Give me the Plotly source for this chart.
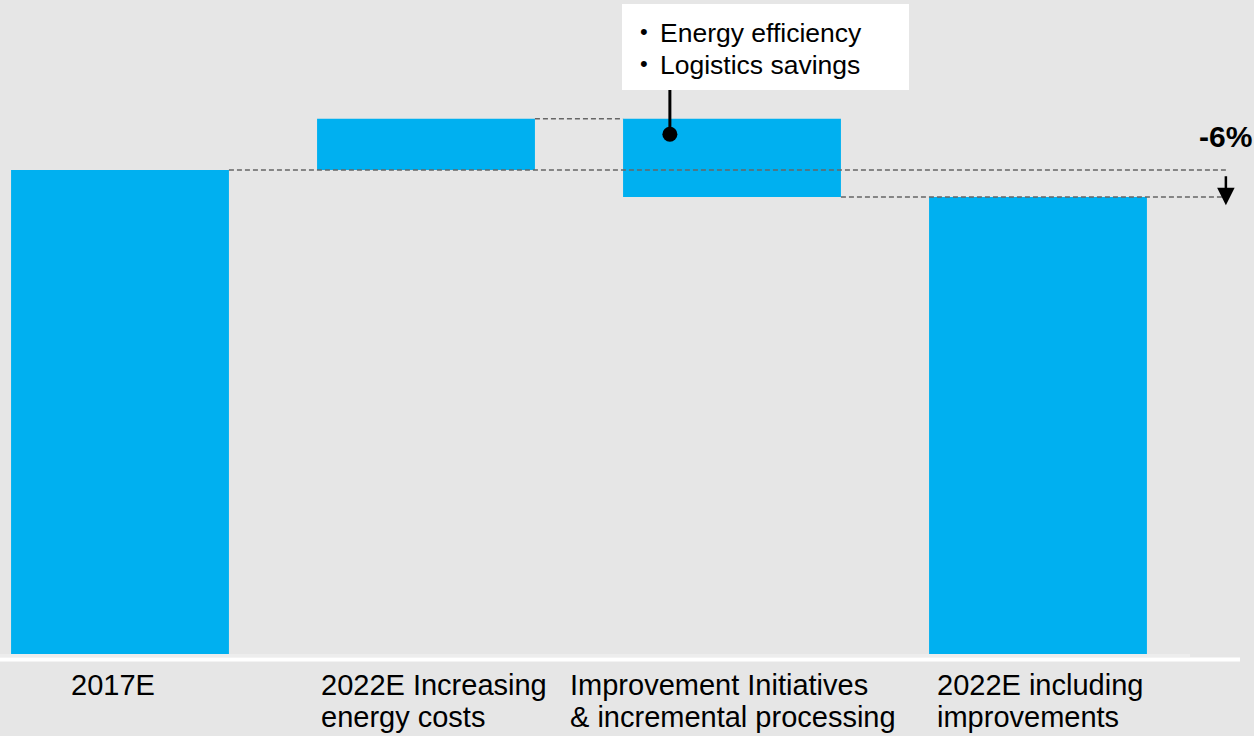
import plotly.graph_objects as go

# Cost bridge data (index, 2017E = 100)
categories = ["2017E", "2022E Increasing energy costs",
              "Improvement Initiatives & incremental processing",
              "2022E including improvements"]
label_lines = [["2017E"],
               ["2022E Increasing", "energy costs"],
               ["Improvement Initiatives", "& incremental processing"],
               ["2022E including", "improvements"]]
values = [100.0, 10.6, -16.2, 94.4]
measures = ["absolute", "relative", "relative", "total"]
callout_items = ["Energy efficiency", "Logistics savings"]

BLUE = "#00B0F0"
BG = "#E6E6E6"
FONT = "Liberation Sans, Arial, sans-serif"
W, H = 1254, 736

# running levels
start = values[0]
after_increase = start + values[1]
after_decrease = after_increase + values[2]
final = values[3]
pct = round((final - start) / start * 100)

bar_w = 0.712
half = bar_w / 2
x_right = 3.614  # end of guide lines / arrow position

fig = go.Figure()
fig.add_trace(go.Waterfall(
    x=list(range(len(categories))),
    y=values,
    measure=measures,
    width=[bar_w] * 4,
    increasing=dict(marker=dict(color=BLUE, line=dict(width=0))),
    decreasing=dict(marker=dict(color=BLUE, line=dict(width=0))),
    totals=dict(marker=dict(color=BLUE, line=dict(width=0))),
    connector=dict(visible=False),
    hoverinfo="skip",
    showlegend=False,
))

dash_style = dict(color="#666666", width=1.5, dash="5px,3px")
shapes = [
    # guide lines
    dict(type="line", xref="x", yref="y", x0=0 + half, x1=x_right, y0=start, y1=start, line=dash_style),
    dict(type="line", xref="x", yref="y", x0=1 + half, x1=2 - half, y0=after_increase, y1=after_increase, line=dash_style),
    dict(type="line", xref="x", yref="y", x0=2 + half, x1=x_right, y0=after_decrease, y1=after_decrease, line=dash_style),
    # baseline strips
    dict(type="line", xref="paper", yref="y", x0=0, x1=1190 / W, y0=-0.3, y1=-0.3,
         line=dict(color="#EDEDED", width=3)),
    dict(type="line", xref="paper", yref="y", x0=0, x1=1240 / W, y0=-1.14, y1=-1.14,
         line=dict(color="#FFFFFF", width=4)),
    # callout box
    dict(type="rect", xref="paper", yref="paper", x0=622 / W, x1=909 / W,
         y0=1 - 90 / H, y1=1 - 4 / H, fillcolor="#FFFFFF", line=dict(width=0), layer="above"),
]

dot_x = 2 - 0.203
dot_y = 107.4
shapes.append(dict(type="line", xref="x", yref="paper", x0=dot_x, x1=dot_x,
                   y0=1 - 134 / H, y1=1 - 90 / H, line=dict(color="black", width=3)))
fig.update_layout(shapes=shapes)

fig.add_trace(go.Scatter(x=[dot_x], y=[dot_y], mode="markers",
                         marker=dict(color="black", size=15), hoverinfo="skip", showlegend=False))

annotations = []
# category labels, left aligned under each bar, one annotation per line
label_offsets = [-50, -106, -163, -102]
line_tops = [668, 700]
for i, lines in enumerate(label_lines):
    for j, line in enumerate(lines):
        annotations.append(dict(
            x=i, y=1 - line_tops[j] / H, xref="x", yref="paper", xshift=label_offsets[i],
            xanchor="left", yanchor="top", align="left", showarrow=False, borderpad=0,
            text=line, font=dict(family=FONT, size=29, color="black"),
        ))

# callout bullets and text
callout_tops = [17, 49]
for j, item in enumerate(callout_items):
    annotations.append(dict(
        x=639 / W, y=1 - (callout_tops[j] + 1) / H, xref="paper", yref="paper",
        xanchor="left", yanchor="top", showarrow=False, borderpad=0,
        text="\u2022", font=dict(family=FONT, size=22, color="black"),
    ))
    annotations.append(dict(
        x=659 / W, y=1 - callout_tops[j] / H, xref="paper", yref="paper",
        xanchor="left", yanchor="top", showarrow=False, borderpad=0,
        text=item, font=dict(family=FONT, size=26.5, color="black"),
    ))

# change arrow and percentage
annotations.append(dict(
    x=x_right, y=after_decrease - 1.7, xref="x", yref="y",
    ax=x_right, ay=start - 1.0, axref="x", ayref="y",
    showarrow=True, arrowhead=2, arrowsize=1.4, arrowwidth=2.5, arrowcolor="black", text="",
))
annotations.append(dict(
    x=1253 / W, y=start + 7.0, xref="paper", yref="y", xanchor="right", yanchor="middle",
    showarrow=False, borderpad=0, text=f"<b>{pct:+d}%</b>".replace("+", ""),
    font=dict(family=FONT, size=30, color="black"),
))
fig.update_layout(annotations=annotations)

px_per_unit = 484 / start
fig.update_layout(
    width=W, height=H,
    margin=dict(l=0, r=0, t=0, b=0),
    paper_bgcolor=BG, plot_bgcolor=BG,
    xaxis=dict(range=[-120 / 306, (W - 120) / 306], showgrid=False, zeroline=False,
               showticklabels=False, ticks="", fixedrange=True),
    yaxis=dict(range=[-(H - 654) / px_per_unit, 654 / px_per_unit], showgrid=False,
               zeroline=False, showticklabels=False, ticks="", fixedrange=True),
    waterfallgap=1 - bar_w,
)

fig.write_html("out.html")
